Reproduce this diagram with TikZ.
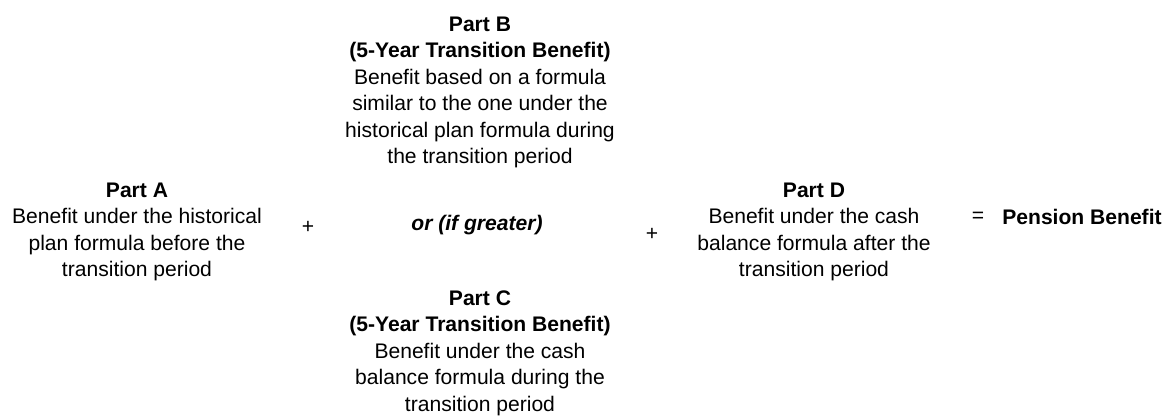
\documentclass[tikz,border=0pt]{standalone}
\usepackage{fontspec}
\setmainfont{Liberation Sans}

\begin{document}
\begin{tikzpicture}[x=0.02cm,y=-0.02cm,
    part/.style={align=center,inner sep=0pt,font=\fontsize{12}{15.1}\selectfont},
    sign/.style={inner sep=0pt,font=\fontsize{12}{15.1}\selectfont}]
            		\useasboundingbox (0,0) rectangle (1164,417);

            		\node (a) at (137,232) [part] {\textbf{Part A}\\Benefit under the historical\\plan formula before the\\transition period};
            		\node (p1) at (308,227) [sign] {+};

            		\node (b) at (480,92.5) [part] {\textbf{Part B}\\\textbf{(5-Year Transition Benefit)}\\Benefit based on a formula\\similar to the one under the\\historical plan formula during\\the transition period};
            		\node (or) at (477,225) [sign] {\textbf{\itshape or (if greater)}};
            		\node (c) at (480,353) [part] {\textbf{Part C}\\\textbf{(5-Year Transition Benefit)}\\Benefit under the cash\\balance formula during the\\transition period};

            		\node (p2) at (652,234) [sign] {+};
            		\node (d) at (814,232) [part] {\textbf{Part D}\\Benefit under the cash\\balance formula after the\\transition period};

            		\node (sum) at (1162,217) [sign,anchor=east] {\textbf{Pension Benefit}};
            		\node (eq) at (978,217) [sign] {=};

        		\end{tikzpicture}
\end{document}
